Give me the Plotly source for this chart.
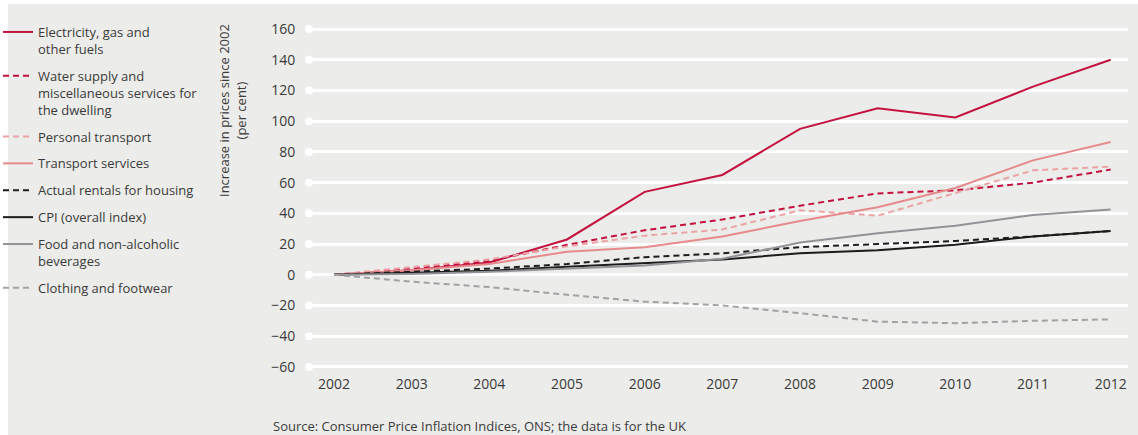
import plotly.graph_objects as go

years = [2002, 2003, 2004, 2005, 2006, 2007, 2008, 2009, 2010, 2011, 2012]

electricity = [0, 3, 8, 23, 54, 65, 95, 108.5, 102.5, 122.5, 140]
water = [0, 4, 9, 19.5, 29, 36, 45, 53, 55, 60, 68.5]
personal_transport = [0, 5, 10, 18.5, 25.5, 29.5, 42, 38.5, 53, 68, 70.5]
transport_services = [0, 3, 7, 15, 18, 25, 35, 44, 56.5, 74.5, 86.5]
rentals = [0, 2, 4, 7, 11.5, 14, 18, 20, 22, 25, 28.5]
cpi = [0, 1.3, 2.6, 5.2, 7.4, 10, 14, 16, 19.5, 25, 28.5]
food = [0, 0.5, 2, 4, 6, 10.5, 21, 27, 32, 39, 42.5]
clothing = [0, -4.5, -8, -13, -17.5, -20, -25, -30.5, -31.5, -30, -29]

series_names = [
    "Electricity, gas and<br>other fuels",
    "Water supply and<br>miscellaneous services for<br>the dwelling",
    "Personal transport",
    "Transport services",
    "Actual rentals for housing",
    "CPI (overall index)",
    "Food and non-alcoholic<br>beverages",
    "Clothing and footwear",
]
series_values = [electricity, water, personal_transport, transport_services,
                 rentals, cpi, food, clothing]
series_colors = ["#c4123f", "#c4123f", "#eba3a6", "#e68a8c",
                 "#1c1c1c", "#1c1c1c", "#939397", "#a2a2a4"]
series_dash = ["solid", "6px,4px", "6px,4px", "solid",
               "6px,4px", "solid", "solid", "6px,4px"]

y_ticks = [-60, -40, -20, 0, 20, 40, 60, 80, 100, 120, 140, 160]

BG = "#ececea"
TXT = "#3a3a3a"
FONT = "Open Sans"

x_range = [2001.678, 2012.223]
y_range = [-62, 162]

fig = go.Figure()

# white dots at the left end of each gridline
fig.add_trace(go.Scatter(
    x=[x_range[0]] * len(y_ticks), y=y_ticks, mode="markers",
    marker=dict(color="white", size=8, line=dict(width=0)),
    cliponaxis=False, showlegend=False, hoverinfo="skip",
))

for i, (name, vals, col, dash) in enumerate(zip(series_names, series_values,
                                                 series_colors, series_dash)):
    fig.add_trace(go.Scatter(
        x=years, y=vals, mode="lines", name=name,
        line=dict(color=col, width=2, dash=dash),
        legendgroup=f"g{i}",
    ))

W, H = 1138, 435
ml, mr, mt, mb = 309, 10, 26, 65
pw = W - ml - mr
ph = H - mt - mb

def px_x(px):
    return (px - ml) / pw

def px_y(py):
    return 1 - (py - mt) / ph

fig.update_layout(
    width=W, height=H,
    margin=dict(l=ml, r=mr, t=mt, b=mb, autoexpand=False),
    paper_bgcolor="white",
    plot_bgcolor=BG,
    font=dict(family=FONT, color=TXT, size=13),
    showlegend=True,
    legend=dict(
        x=px_x(-2), xanchor="left", y=px_y(17), yanchor="top",
        bgcolor="rgba(0,0,0,0)", font=dict(size=13, color=TXT, family=FONT),
        tracegroupgap=7, valign="top", traceorder="grouped",
        maxheight=2000,
    ),
    shapes=[dict(
        type="rect", xref="paper", yref="paper",
        x0=px_x(8), x1=px_x(W + 2), y0=px_y(H + 2), y1=px_y(4),
        fillcolor=BG, line=dict(width=0), layer="below",
    )],
    annotations=[
        dict(
            text="Increase in prices since 2002<br>(per cent)",
            textangle=-90, xref="paper", yref="paper",
            x=px_x(232), y=px_y(111), xanchor="center", yanchor="middle",
            showarrow=False, font=dict(size=13, color=TXT, family=FONT),
            align="center",
        ),
        dict(
            text="Source: Consumer Price Inflation Indices, ONS; the data is for the UK",
            xref="paper", yref="paper", x=px_x(271), y=px_y(426),
            xanchor="left", yanchor="middle", showarrow=False,
            font=dict(size=13, color=TXT, family=FONT),
        ),
    ],
    hovermode=False,
)

fig.update_xaxes(
    range=x_range, tickmode="array", tickvals=years,
    ticktext=[str(y) for y in years],
    showgrid=False, zeroline=False, showline=False,
    ticks="outside", ticklen=1, tickcolor="rgba(0,0,0,0)",
    tickfont=dict(size=14, color=TXT, family=FONT),
)
fig.update_yaxes(
    range=y_range, tickmode="array", tickvals=y_ticks,
    showgrid=True, gridcolor="white", gridwidth=2.5,
    zeroline=False, showline=False,
    ticks="outside", ticklen=10, tickcolor="rgba(0,0,0,0)",
    tickfont=dict(size=14, color=TXT, family=FONT),
)

fig.write_html(
    "out.html",
    config={"displayModeBar": False, "staticPlot": False},
    post_script="document.body.style.margin='0px';document.body.style.overflow='hidden';",
)
